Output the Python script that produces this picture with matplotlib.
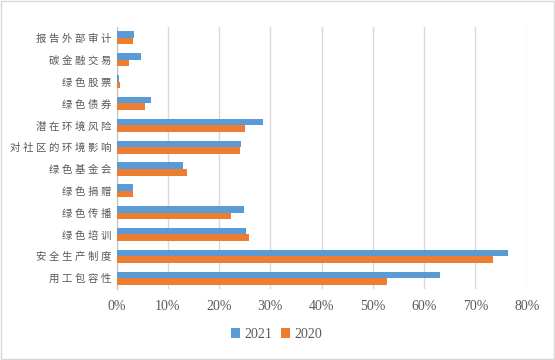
import numpy as np
import matplotlib.pyplot as plt
from matplotlib.ticker import FuncFormatter

plt.rcParams['font.family'] = ['Liberation Serif', 'Noto Sans CJK SC']

# data (top to bottom)
categories = ["报告外部审计", "碳金融交易", "绿色股票", "绿色债券", "潜在环境风险",
              "对社区的环境影响", "绿色基金会", "绿色捐赠", "绿色传播", "绿色培训",
              "安全生产制度", "用工包容性"]
v2021 = [3.4, 4.7, 0.4, 6.7, 28.5, 24.3, 12.9, 3.2, 24.8, 25.2, 76.4, 63.1]
v2020 = [3.2, 2.5, 0.6, 5.5, 25.0, 24.1, 13.7, 3.2, 22.4, 25.8, 73.4, 52.8]
xticks = [0, 10, 20, 30, 40, 50, 60, 70, 80]

fig = plt.figure(figsize=(5.55, 3.6), dpi=100)
ax = fig.add_axes([0.21, 0.197, 0.739, 0.728])

n = len(categories)
y = np.arange(n)
h = 0.3
ax.barh(y - h / 2, v2021, height=h, color="#5B9BD5", label="2021", zorder=3)
ax.barh(y + h / 2, v2020, height=h, color="#ED7D31", label="2020", zorder=3)

ax.set_ylim(n - 0.5, -0.5)
ax.set_xlim(0, 80)
ax.set_xticks(xticks)
ax.xaxis.set_major_formatter(FuncFormatter(lambda v, p: "%d%%" % v))
ax.set_yticks(y)
ax.set_yticklabels([" ".join(c) for c in categories], fontsize=7.5, color="#595959")
ax.tick_params(axis="x", labelsize=10, colors="#595959", length=0, pad=8)
ax.tick_params(axis="y", length=0, pad=4)

ax.grid(axis="x", color="#D9D9D9", linewidth=1, zorder=0)
for s in ["top", "right", "bottom"]:
    ax.spines[s].set_visible(False)
ax.spines["left"].set_color("#BFBFBF")

ax.legend(loc="upper center", bbox_to_anchor=(0.39, -0.1), ncol=2, frameon=False,
          fontsize=10, handlelength=0.7, handleheight=0.7, columnspacing=0.6,
          handletextpad=0.3, labelcolor="#595959")

fig.patches.append(plt.Rectangle((0.001, 0.002), 0.997, 0.995, transform=fig.transFigure,
                                 fill=False, edgecolor="#D9D9D9", linewidth=1))

fig.savefig("out.png", dpi=100)
